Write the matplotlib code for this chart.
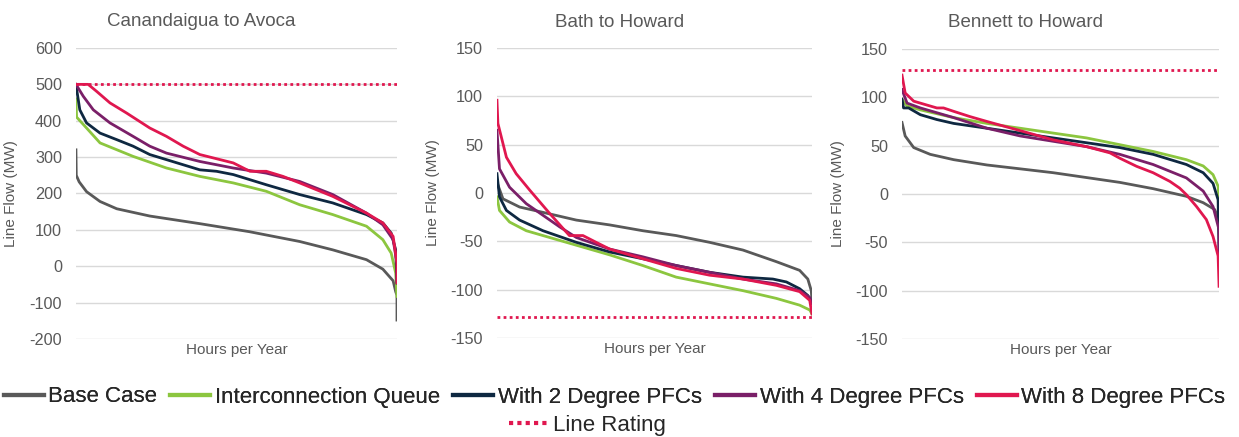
import matplotlib
matplotlib.use('Agg')
import matplotlib.pyplot as plt
from matplotlib.lines import Line2D

plt.rcParams['font.family'] = ['Liberation Sans', 'DejaVu Sans']
plt.rcParams['axes.unicode_minus'] = False

# series names and colours
series_names = ['Base Case', 'Interconnection Queue', 'With 2 Degree PFCs',
                'With 4 Degree PFCs', 'With 8 Degree PFCs']
series_colors = ['#595959', '#8CC63F', '#0E2841', '#7A1F68', '#E0174F']
rating_color = '#E0174F'

# x = percent of hours in the year (sorted), y = line flow in MW
# Canandaigua to Avoca
cana_base = [(0, 320), (0.1, 250), (1, 232), (3.3, 205), (7.5, 178), (12.7, 158), (23, 138),
             (38.6, 117), (54, 95), (69.7, 68), (80, 45), (90.5, 18), (95.6, -8), (98.8, -40),
             (99.6, -70), (100, -80), (100, -148)]
cana_queue = [(0, 460), (0.2, 410), (3.3, 380), (7.5, 339), (17.8, 302), (28.2, 270), (38.6, 247),
              (49, 229), (59.3, 206), (69.7, 169), (80, 142), (90.5, 110), (95.6, 73),
              (98.2, 36), (99.6, -19), (100, -83)]
cana_pfc2 = [(0, 499), (1.2, 430), (3.3, 394), (7.5, 366), (12.7, 348), (17.8, 330), (23, 307),
             (28.2, 293), (38.6, 265), (43.8, 261), (49, 252), (59.3, 224), (69.7, 197),
             (80, 174), (90.5, 142), (95.6, 119), (98.2, 91), (99.6, 45), (100, -46)]
cana_pfc4 = [(0, 500), (2.3, 467), (5.4, 430), (10.6, 394), (17.8, 357), (23, 330), (28.2, 311),
             (38.6, 288), (49, 270), (59.3, 256), (69.7, 233), (80, 197), (90.5, 146),
             (95.6, 114), (98.8, 73), (100, 9), (100, -42)]
cana_pfc8 = [(0, 500), (3.8, 500), (6.4, 481), (10.6, 449), (15.8, 421), (23, 380), (28.2, 357),
             (33.4, 330), (38.6, 307), (49, 284), (54.2, 261), (59.3, 261), (64.5, 247),
             (69.7, 229), (80, 192), (90.5, 146), (95.6, 119), (98.8, 82), (100, 9), (100, -46)]
cana_rating = 500

# Bath to Howard
bath_base = [(0, 11), (1.9, -6), (7.2, -14.5), (14.6, -20), (25.2, -28), (35.8, -33), (46.3, -39),
             (56.9, -44), (67.5, -51), (78.1, -59), (88.7, -71), (96.1, -80), (98.7, -89),
             (99.8, -101), (100, -111)]
bath_queue = [(0, -4), (0.8, -18), (4, -30), (9.3, -39), (14.6, -44), (25.2, -54), (35.8, -64),
              (46.3, -75), (56.9, -87), (67.5, -94), (78.1, -101), (88.7, -109), (96.1, -116),
              (99.3, -121), (100, -125)]
bath_pfc2 = [(0, 20), (0.8, -4), (3, -18), (7.2, -28), (14.6, -39), (25.2, -51), (35.8, -61),
             (46.3, -68), (56.9, -75), (67.5, -82), (78.1, -87), (87.6, -89), (91.9, -92),
             (96.1, -99), (98.7, -106), (100, -114)]
bath_pfc4 = [(0, 65), (0.8, 25), (4, 6), (9.3, -11), (14.6, -23), (19.9, -35), (25.2, -46),
             (35.8, -58), (46.3, -66), (56.9, -75), (67.5, -82), (78.1, -89), (88.7, -94),
             (96.1, -101), (99.3, -108), (100, -114)]
bath_pfc8 = [(0, 96), (0.3, 72), (3, 37), (6.1, 20), (10.4, 3), (16.7, -21), (23, -44),
             (27.3, -44), (31.5, -51), (35.8, -58), (46.3, -68), (56.9, -78), (67.5, -85),
             (78.1, -89), (88.7, -95.5), (96.1, -102), (99.3, -111), (100, -125)]
bath_rating = -128

# Bennett to Howard
benn_base = [(0, 74), (1, 60), (3.7, 48), (8.9, 41), (16.3, 35.5), (26.8, 30), (37.3, 26),
             (47.7, 22), (58.2, 17), (68.7, 12), (79.2, 5.5), (89.7, -2.4), (95, -9),
             (98.6, -16), (100, -26.5)]
benn_queue = [(0, 98), (1.6, 91), (5.8, 87), (16.3, 79), (26.8, 73), (37.3, 68), (47.7, 63),
              (58.2, 58), (68.7, 51), (79.2, 44), (89.7, 35.5), (95, 29), (98.1, 20),
              (99.7, 8), (100, -6)]
benn_pfc2 = [(0, 98), (0.5, 89), (2.1, 89), (5.8, 82), (11, 77), (16.3, 73), (26.8, 68),
             (37.3, 63), (47.7, 58), (58.2, 53), (68.7, 48), (79.2, 41), (89.7, 30.5),
             (95, 22), (98.1, 11), (99.7, -6), (100, -64)]
benn_pfc4 = [(0, 108), (1.6, 94), (5.8, 89), (16.3, 79), (26.8, 68), (37.3, 60), (47.7, 54.5),
             (58.2, 49), (68.7, 41), (79.2, 30.5), (89.7, 16.6), (95, 3), (98.1, -13),
             (100, -37), (100, -64)]
benn_pfc8 = [(0, 123), (1, 104.5), (3.7, 96), (8.9, 91), (11, 89), (13.1, 89), (16.3, 85.5),
             (21.5, 80), (26.8, 75), (37.3, 65.5), (47.7, 56), (58.2, 49), (65.6, 42.5),
             (68.7, 37), (74, 28.6), (79.2, 22), (84.5, 13), (87.6, 6), (89.7, -0.7),
             (92.9, -13), (96, -26.5), (98.1, -44), (99.7, -64), (100, -95.5)]
benn_rating = 128

titles = ['Canandaigua to Avoca', 'Bath to Howard', 'Bennett to Howard']
y_limits = [(-200, 600), (-150, 150), (-150, 150)]
y_steps = [100, 50, 50]

panels = [
    [cana_base, cana_queue, cana_pfc2, cana_pfc4, cana_pfc8],
    [bath_base, bath_queue, bath_pfc2, bath_pfc4, bath_pfc8],
    [benn_base, benn_queue, benn_pfc2, benn_pfc4, benn_pfc8],
]
ratings = [cana_rating, bath_rating, benn_rating]

# axes boxes in figure fractions
boxes = [
    [0.0613, 0.2243, 0.2591, 0.6659],
    [0.4011, 0.2265, 0.2542, 0.6636],
    [0.7280, 0.2243, 0.2559, 0.6636],
]

fig = plt.figure(figsize=(12.39, 4.37), dpi=100)
text_gray = '#595959'

for i in range(3):
    ax = fig.add_axes(boxes[i])
    for data, color in zip(panels[i], series_colors):
        xs = [p[0] for p in data]
        ys = [p[1] for p in data]
        ax.plot(xs, ys, color=color, linewidth=2.0, solid_joinstyle='round')
    ax.axhline(ratings[i], color=rating_color, linestyle=(0, (1, 1.2)), linewidth=2.0)

    lo, hi = y_limits[i]
    ax.set_ylim(lo, hi)
    ax.set_xlim(0, 100)
    ax.set_yticks(range(lo, hi + 1, y_steps[i]))
    ax.set_xticks([])
    ax.grid(True, axis='y', color='#d9d9d9', linewidth=1.0)
    ax.set_axisbelow(True)
    for s in ax.spines.values():
        s.set_visible(False)
    ax.tick_params(axis='y', length=0, pad=10, labelsize=11.7, labelcolor=text_gray)

    ax.set_ylabel('Line Flow (MW)', fontsize=11, color=text_gray)
    ax.yaxis.set_label_coords(-0.18, 0.5)
    ax.set_xlabel('Hours per Year', fontsize=11, color=text_gray, labelpad=3)
    ax.text(0.39, 1.0 + 26 / 290, titles[i], transform=ax.transAxes, ha='center', va='center',
            fontsize=13.5, color=text_gray)

# legend: five series on first row, line rating on second
handles = [Line2D([], [], color=c, linewidth=3) for c in series_colors]
leg1 = fig.legend(handles, series_names, loc='center', bbox_to_anchor=(0.496, 1 - 397 / 437),
                  ncol=5, frameon=False, fontsize=16, handlelength=1.8, handletextpad=0.2,
                  columnspacing=0.6, labelcolor='#262626')
fig.add_artist(leg1)
rating_handle = [Line2D([], [], color=rating_color, linewidth=3, linestyle=(0, (1, 1)))]
fig.legend(rating_handle, ['Line Rating'], loc='center', bbox_to_anchor=(0.474, 1 - 425 / 437),
           frameon=False, fontsize=16, handlelength=1.8, handletextpad=0.2, labelcolor='#262626')

fig.savefig('out.png', dpi=100)
